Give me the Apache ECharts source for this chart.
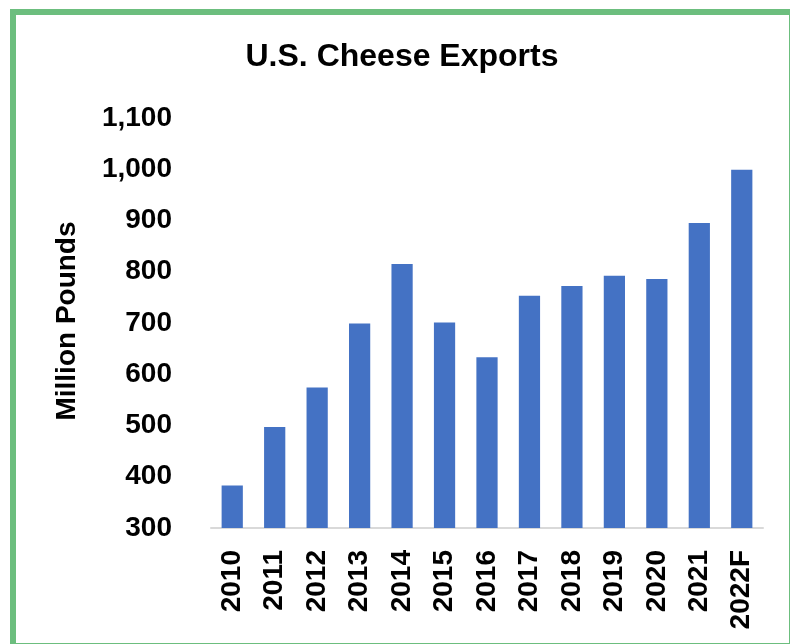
<!DOCTYPE html>
<html>
<head>
<meta charset="utf-8">
<script src="https://cdn.jsdelivr.net/npm/echarts@6/dist/echarts.min.js"></script>
<style>
  html, body { margin: 0; padding: 0; background: #ffffff; }
  #chart { position: absolute; left: 0; top: 0; width: 791px; height: 644px; }
  #frame { position: absolute; left: 10px; top: 9px; width: 780px; height: 635px; box-sizing: border-box;
           border-left: 6px solid #6CBE7E; border-top: 6px solid #6CBE7E;
           border-right: 1px solid #6CBE7E; border-bottom: 1px solid #6CBE7E; pointer-events: none; }
</style>
</head>
<body>
<div id="chart"></div>
<div id="frame"></div>
<script>
const categories = ['2010', '2011', '2012', '2013', '2014', '2015', '2016', '2017', '2018', '2019', '2020', '2021', '2022F'];
const exportValues = [383, 497, 574, 699, 815, 701, 633, 753, 772, 792, 786, 895, 999];
const yMin = 300;
const yMax = 1100;
const yInterval = 100;
const titleText = 'U.S. Cheese Exports';
const yAxisTitle = 'Million Pounds';

const FONT = '"Liberation Sans", Arial, sans-serif';
const chart = echarts.init(document.getElementById('chart'), null, { renderer: 'canvas' });
chart.setOption({
  animation: false,
  backgroundColor: '#ffffff',
  grid: { left: 211, right: 28, top: 118, bottom: 116, containLabel: false },
  graphic: [
    { type: 'text', x: 402, y: 57,
      style: { text: titleText, textAlign: 'center', textVerticalAlign: 'middle',
               font: 'bold 32px ' + FONT, fill: '#000000' } },
    { type: 'text', x: 67, y: 321, rotation: Math.PI / 2,
      style: { text: yAxisTitle, textAlign: 'center', textVerticalAlign: 'middle',
               font: 'bold 28px ' + FONT, fill: '#000000' } }
  ],
  xAxis: {
    type: 'category',
    data: categories,
    axisLine: { show: true, lineStyle: { color: '#D9D9D9', width: 2 } },
    axisTick: { show: false },
    axisLabel: { rotate: 90, margin: 22, color: '#000000', fontWeight: 'bold',
                 fontSize: 28, fontFamily: FONT, interval: 0 }
  },
  yAxis: {
    type: 'value',
    min: yMin, max: yMax, interval: yInterval,
    axisLine: { show: false },
    axisTick: { show: false },
    splitLine: { show: false },
    axisLabel: { margin: 39, color: '#000000', fontWeight: 'bold', fontSize: 28, fontFamily: FONT,
                 formatter: v => v.toLocaleString('en-US') }
  },
  series: [{
    type: 'bar',
    data: exportValues,
    barWidth: '50%',
    itemStyle: { color: '#4472C4' }
  }]
});
</script>
</body>
</html>
